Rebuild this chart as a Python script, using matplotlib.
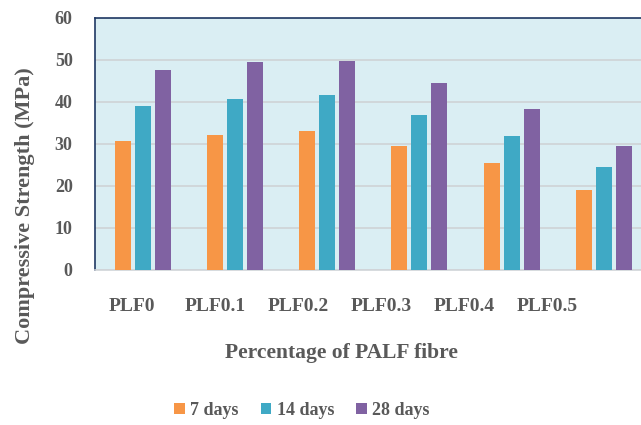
import numpy as np
import matplotlib
matplotlib.use('Agg')
import matplotlib.pyplot as plt

# compressive strength (MPa) by fibre content and curing age
mixes = ['PLF0', 'PLF0.1', 'PLF0.2', 'PLF0.3', 'PLF0.4', 'PLF0.5']
ages = ['7 days', '14 days', '28 days']
day7 = [30.8, 32.1, 33.0, 29.4, 25.4, 18.9]
day14 = [39.0, 40.7, 41.7, 36.9, 31.8, 24.4]
day28 = [47.6, 49.4, 49.8, 44.6, 38.3, 29.6]
yticks = [0, 10, 20, 30, 40, 50, 60]

colors = ['#F79646', '#3FA9C5', '#8062A2']
txt = '#595959'
font = dict(family='Liberation Serif', weight='bold', color=txt)

fig = plt.figure(figsize=(6.41, 4.25), dpi=100)
ax = fig.add_axes([0.148, 0.365, 0.863, 0.593])
ax.set_facecolor('#DAEEF3')

x = np.arange(len(mixes))
w = 0.1735
step = 0.217
for k, (vals, c) in enumerate(zip([day7, day14, day28], colors)):
    ax.bar(x + (k - 1) * step + 0.02, vals, width=w, color=c, label=ages[k], zorder=3)

ax.set_xlim(-0.5, 5.5)
ax.set_ylim(0, 60)
ax.set_yticks(yticks)
ax.set_yticklabels([str(t) for t in yticks], fontsize=13, **font)
ax.yaxis.grid(True, color='#CFD3D6', linewidth=1.2, zorder=0)
ax.tick_params(axis='y', length=0, pad=16)

# category labels sit on their own spacing under the groups
ax.set_xticks(-0.099 + 0.902 * x)
ax.set_xticklabels(mixes, fontsize=14, **font)
ax.tick_params(axis='x', length=0, pad=20)

for s in ['top', 'left', 'right']:
    ax.spines[s].set_color('#1F3864')
    ax.spines[s].set_linewidth(1.2)
ax.spines['bottom'].set_color('#D0D4D8')
ax.spines['bottom'].set_linewidth(1.2)

ax.set_xlabel('Percentage of PALF fibre', fontsize=15.5, **font)
ax.xaxis.set_label_coords(0.445, -0.29)
ax.set_ylabel('Compressive Strength (MPa)', fontsize=16, **font)
ax.yaxis.set_label_coords(-0.108, 0.254)

leg = fig.legend(loc='center', bbox_to_anchor=(0.471, 0.034), ncol=3, frameon=False,
                 handlelength=0.6, handleheight=0.6, handletextpad=0.3, columnspacing=1.2,
                 prop=dict(family='Liberation Serif', weight='bold', size=13))
for t in leg.get_texts():
    t.set_color(txt)

fig.savefig('out.png', dpi=100)
